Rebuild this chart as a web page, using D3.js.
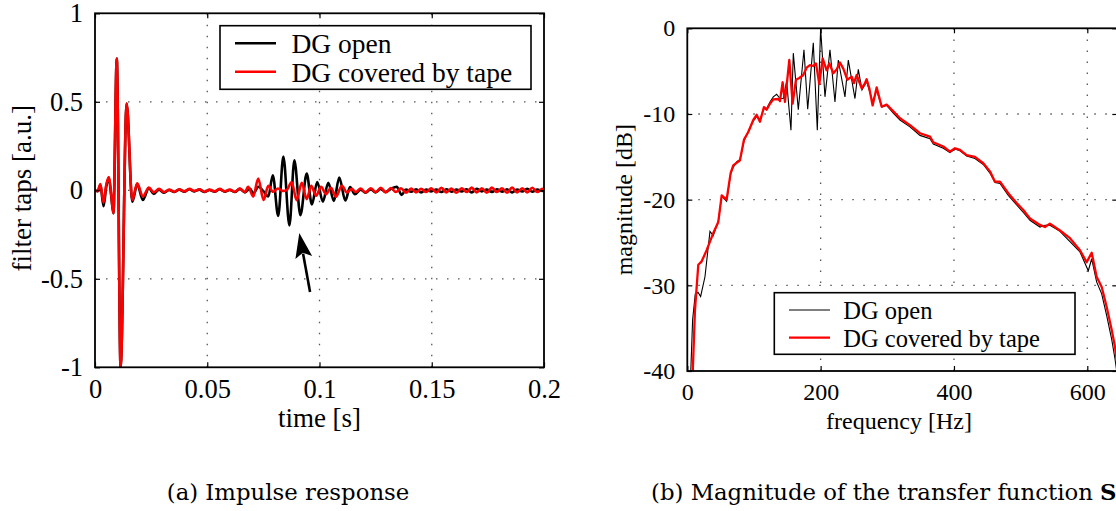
<!DOCTYPE html>
<html>
<head>
<meta charset="utf-8">
<script src="https://d3js.org/d3.v7.min.js"></script>
<style>
body { margin: 0; background: #fff; }
svg text { font-family: "Liberation Serif", "Times New Roman", serif; fill: #000; }
</style>
</head>
<body>
<svg width="1116" height="511"></svg>
<script>
// ---- data ----
// (a) impulse response: [time (s), filter tap]
var impulseOpen = [
  [0, 0], [0.0012, -0.005], [0.0024, 0.03], [0.0038, -0.09], [0.0050, 0.02], [0.0062, 0.07],
  [0.0072, -0.03], [0.0082, -0.13], [0.0097, 0.744], [0.0114, -1.0], [0.0141, 0.49],
  [0.0166, -0.065], [0.0188, 0.035], [0.0213, -0.055], [0.0240, 0.012], [0.0262, -0.02],
  [0.0285, 0.004], [0.0308, -0.014], [0.0330, 0.002], [0.0353, -0.010], [0.0375, 0.004],
  [0.0398, -0.008], [0.0420, 0.006], [0.0443, -0.006], [0.0465, 0.004], [0.0488, -0.010],
  [0.0510, 0.002], [0.0533, -0.008], [0.0555, 0.006], [0.0578, -0.008], [0.0600, 0.002],
  [0.0623, -0.010], [0.0645, 0.008], [0.0668, -0.012], [0.0690, 0.010], [0.0705, -0.018],
  [0.0728, 0.02], [0.0750, -0.005], [0.0772, -0.035], [0.0792, 0.085], [0.0816, -0.145],
  [0.0839, 0.19], [0.0866, -0.198], [0.0888, 0.17], [0.0915, -0.14], [0.0943, 0.094],
  [0.0966, -0.08], [0.0990, 0.047], [0.1015, -0.064], [0.1039, 0.043], [0.1064, -0.06],
  [0.1088, 0.072], [0.1115, -0.058], [0.1136, 0.018], [0.1158, -0.022], [0.1183, 0.004],
  [0.1205, -0.014], [0.1228, 0.006], [0.1250, -0.012], [0.1273, 0.008], [0.1295, -0.010],
  [0.1318, 0.008], [0.1344, 0.020], [0.1366, -0.026], [0.1385, 0.004], [0.1408, -0.008],
  [0.1430, 0.006], [0.1453, -0.012], [0.1475, 0.004], [0.1498, -0.006], [0.1520, 0.004],
  [0.1543, -0.010], [0.1565, 0.006], [0.1588, -0.008], [0.1610, 0.004], [0.1633, -0.006],
  [0.1655, 0.006], [0.1678, -0.012], [0.1700, 0.008], [0.1723, -0.006], [0.1745, 0.004],
  [0.1768, -0.010], [0.1790, 0.006], [0.1813, -0.008], [0.1835, 0.006], [0.1858, -0.012],
  [0.1880, 0.004], [0.1903, -0.006], [0.1925, 0.008], [0.1948, -0.008], [0.1970, 0.004],
  [0.1993, -0.004], [0.2, 0.0]
];
var impulseTape = [
  [0, 0], [0.0012, -0.005], [0.0024, 0.035], [0.0038, -0.07], [0.0050, 0.03], [0.0062, 0.075],
  [0.0072, -0.02], [0.0082, -0.13], [0.0097, 0.744], [0.0114, -1.0], [0.0141, 0.49],
  [0.0166, -0.055], [0.0188, 0.04], [0.0213, -0.035], [0.0240, 0.015], [0.0262, -0.012],
  [0.0285, 0.008], [0.0308, -0.010], [0.0330, 0.004], [0.0353, -0.008], [0.0375, 0.006],
  [0.0398, -0.006], [0.0420, 0.008], [0.0443, -0.004], [0.0465, 0.006], [0.0488, -0.008],
  [0.0510, 0.004], [0.0533, -0.006], [0.0555, 0.008], [0.0578, -0.006], [0.0600, 0.004],
  [0.0623, -0.008], [0.0645, 0.010], [0.0668, -0.010], [0.0682, 0.02], [0.0705, -0.035],
  [0.0727, 0.066], [0.0751, -0.055], [0.0772, 0.025], [0.0793, -0.008], [0.0815, 0.01],
  [0.0837, -0.004], [0.0856, 0.004], [0.0876, 0.047], [0.0898, -0.056], [0.0921, 0.042],
  [0.0943, -0.05], [0.0963, 0.025], [0.0985, -0.03], [0.1007, 0.02], [0.1029, -0.022],
  [0.1051, 0.014], [0.1073, -0.036], [0.1100, 0.026], [0.1122, -0.012], [0.1144, 0.008],
  [0.1161, -0.010], [0.1183, 0.010], [0.1205, -0.012], [0.1228, 0.012], [0.1250, -0.010],
  [0.1273, 0.014], [0.1295, -0.012], [0.1318, 0.013], [0.1340, -0.010], [0.1363, 0.012],
  [0.1385, -0.014], [0.1408, 0.010], [0.1430, -0.012], [0.1453, 0.008], [0.1475, -0.010],
  [0.1498, 0.012], [0.1520, -0.012], [0.1543, 0.014], [0.1565, -0.012], [0.1588, 0.010],
  [0.1610, -0.014], [0.1633, 0.012], [0.1655, -0.010], [0.1678, 0.015], [0.1700, -0.012],
  [0.1723, 0.012], [0.1745, -0.014], [0.1768, 0.015], [0.1790, -0.010], [0.1813, 0.012],
  [0.1835, -0.014], [0.1858, 0.015], [0.1880, -0.012], [0.1903, 0.012], [0.1925, -0.012],
  [0.1948, 0.014], [0.1970, -0.010], [0.1993, 0.008], [0.2, 0.004]
];

// (b) magnitude: [frequency (Hz), magnitude (dB)]
var magnitudeOpen = [
  [5, -40.5], [8, -34], [12, -31], [16, -30.8], [20, -31.3], [26.5, -29], [34, -23.7], [39, -24.2],
  [46.5, -22.5], [51.6, -19.6], [59, -20.2], [65, -17], [69, -16.2], [74, -15.6], [79, -15.3],
  [85, -13.2], [91.5, -12], [99, -10.8], [104, -10.3], [109, -10.7], [115, -9.3], [119, -9.4],
  [124, -8.6], [129, -8], [134, -7.7], [139, -8.2], [144, -8.2], [149, -6.2], [155.5, -11.9],
  [159, -2.9], [166.5, -9.5], [175, -2.5], [180.6, -9.45], [189, -1.7], [195, -11.9], [200, 0],
  [206.5, -8], [214, -2.5], [221.5, -8.6], [226.5, -3.7], [236.5, -8], [241.5, -3.7],
  [251.5, -8.2], [256.5, -4.8], [262, -7.2], [269, -6.2], [278, -8.6], [284, -7.2],
  [291.6, -9.2], [299, -9], [309, -9.9], [319, -10.7], [334, -11.5], [349, -12.5], [364, -12.9],
  [369, -13.5], [384, -14], [394, -14.5], [401.5, -14.1], [409, -14.3], [419, -14.9],
  [431.5, -15.2], [444, -15.9], [454, -16.9], [461.5, -18], [469, -18.1], [481.5, -19.5],
  [494, -20.6], [504, -21.5], [514, -22.4], [529, -23.2], [536.5, -23], [544, -23],
  [559, -23.7], [574, -24.9], [589, -26.1], [601.5, -28.3], [606.6, -26.9], [614, -29.6],
  [621.6, -31], [629, -33.5], [636.6, -36.3], [641.6, -38.6], [645, -40.5]
];
var magnitudeTape = [
  [8, -40.5], [11.5, -32.9], [16.5, -27.6], [21.6, -27.2], [29, -25.9], [39, -23.9],
  [46.5, -22.6], [51.6, -19.5], [59, -20], [65, -16.9], [69, -16], [74, -15.7], [79, -15.4],
  [85, -13], [91.5, -12.1], [99, -10.7], [104, -10.1], [109, -10.9], [115, -9.2], [119, -9.5],
  [124, -8.8], [129, -8.3], [136.5, -8.25], [139, -8.5], [143, -6.3], [146.5, -8.6],
  [153, -3.7], [158, -8.8], [163, -6], [168, -5.8], [174, -5.45], [179, -4.6], [184, -4.3],
  [189, -4.4], [193, -4.1], [198, -6.5], [203, -3.5], [209, -4.9], [213, -4.1], [219, -5.25],
  [224, -4.8], [229, -4], [234, -4.7], [240, -6], [246.6, -5.65], [250, -6.4], [254, -5.45],
  [261.6, -7], [266, -6.5], [269, -5.95], [273, -7], [278, -9], [284, -6.9], [291.6, -9.15],
  [299, -8.9], [309, -9.7], [319, -10.5], [334, -11.3], [349, -12.25], [364, -12.65],
  [369, -13.3], [384, -13.8], [394, -14.4], [401.5, -14], [409, -14.2], [419, -14.8],
  [431.5, -15], [444, -15.75], [454, -16.7], [461.5, -17.9], [469, -17.9], [481.5, -19.25],
  [494, -20.4], [504, -21.2], [514, -22.2], [529, -22.95], [536.5, -23.2], [544, -22.8],
  [559, -23.6], [574, -24.5], [589, -25.9], [599, -27.3], [606.6, -26.2], [614, -29],
  [621.6, -30.2], [629, -32.5], [636.6, -35.2], [641.6, -37.2], [647, -40.5]
];

// tick positions and their labels
var timeTicks = [0, 0.05, 0.1, 0.15, 0.2];
var timeLabels = ['0', '0.05', '0.1', '0.15', '0.2'];
var tapTicks = [-1, -0.5, 0, 0.5, 1];
var tapLabels = ['-1', '-0.5', '0', '0.5', '1'];
var freqTicks = [0, 200, 400, 600];
var freqLabels = ['0', '200', '400', '600'];
var magTicks = [-40, -30, -20, -10, 0];
var magLabels = ['-40', '-30', '-20', '-10', '0'];

var seriesNames = ['DG open', 'DG covered by tape'];
var seriesColors = ['#000000', '#ff0000'];

// arrow pointing at the echo, in data units [time, tap]
var arrowTip = [0.0910, -0.241];
var arrowTail = [0.0958, -0.575];

var captions = ['(a) Impulse response', '(b) Magnitude of the transfer function '];

// ---- layout ----
var svg = d3.select('svg');

var leftBox = {l: 95, r: 544, t: 13.3, b: 367.3};
var rightBox = {l: 687.3, r: 1117.3, t: 28.3, b: 371};

var xTime = d3.scaleLinear().domain([0, 0.2]).range([leftBox.l, leftBox.r]);
var yTaps = d3.scaleLinear().domain([-1, 1]).range([leftBox.b, leftBox.t]);
var xFreq = d3.scaleLinear().domain([0, 645]).range([rightBox.l, rightBox.r]);
var yMag = d3.scaleLinear().domain([-40, 0]).range([rightBox.b, rightBox.t]);

var defs = svg.append('defs');
defs.append('clipPath').attr('id', 'clipA').append('rect')
    .attr('x', leftBox.l).attr('y', leftBox.t)
    .attr('width', leftBox.r - leftBox.l).attr('height', leftBox.b - leftBox.t);
defs.append('clipPath').attr('id', 'clipB').append('rect')
    .attr('x', rightBox.l).attr('y', rightBox.t - 1)
    .attr('width', rightBox.r - rightBox.l).attr('height', rightBox.b - rightBox.t + 1);

function drawGrid(box, xs, ys, xt, yt) {
    var g = svg.append('g')
        .attr('stroke', '#555')
        .attr('stroke-width', 1.3)
        .attr('stroke-dasharray', '1.5,9.5');
    g.selectAll('.gx').data(xt.slice(1, -1)).enter().append('line')
        .attr('x1', d => xs(d)).attr('x2', d => xs(d))
        .attr('y1', box.b).attr('y2', box.t);
    g.selectAll('.gy').data(yt.slice(1, -1)).enter().append('line')
        .attr('x1', box.l).attr('x2', box.r)
        .attr('y1', d => ys(d)).attr('y2', d => ys(d));
}

function drawAxes(box, xs, ys, xt, xl, yt, yl, fontSize) {
    var bottom = svg.append('g')
        .attr('transform', 'translate(0,' + box.b + ')')
        .call(d3.axisBottom(xs).tickValues(xt).tickFormat((d, i) => xl[i]).tickSize(-5).tickPadding(12));
    var left = svg.append('g')
        .attr('transform', 'translate(' + box.l + ',0)')
        .call(d3.axisLeft(ys).tickValues(yt).tickFormat((d, i) => yl[i]).tickSize(-5).tickPadding(12));
    var top = svg.append('g')
        .attr('transform', 'translate(0,' + box.t + ')')
        .call(d3.axisTop(xs).tickValues(xt).tickFormat('').tickSize(-5));
    var right = svg.append('g')
        .attr('transform', 'translate(' + box.r + ',0)')
        .call(d3.axisRight(ys).tickValues(yt).tickFormat('').tickSize(-5));

    [bottom, left, top, right].forEach(function(a) {
        a.select('.domain').remove();
        a.selectAll('line').attr('stroke', '#000').attr('stroke-width', 1.2);
        a.selectAll('text')
            .attr('font-family', '"Liberation Serif", "Times New Roman", serif')
            .attr('font-size', fontSize);
    });

    svg.append('rect')
        .attr('x', box.l).attr('y', box.t)
        .attr('width', box.r - box.l).attr('height', box.b - box.t)
        .attr('fill', 'none')
        .attr('stroke', '#000')
        .attr('stroke-width', 1.8);
}

function drawLegend(x, y, w, h, lineX1, lineX2, rowY, textX, baseY, fontSize, widths) {
    var g = svg.append('g');
    g.append('rect')
        .attr('x', x).attr('y', y).attr('width', w).attr('height', h)
        .attr('fill', '#fff').attr('stroke', '#000').attr('stroke-width', 1.6);
    seriesNames.forEach(function(name, i) {
        g.append('line')
            .attr('x1', lineX1).attr('x2', lineX2)
            .attr('y1', rowY[i]).attr('y2', rowY[i])
            .attr('stroke', seriesColors[i])
            .attr('stroke-width', widths[i]);
        g.append('text')
            .attr('x', textX).attr('y', baseY[i])
            .attr('font-size', fontSize)
            .text(name);
    });
}

// ---- panel (a) ----
drawGrid(leftBox, xTime, yTaps, timeTicks, tapTicks);

var impulseLine = d3.line()
    .x(d => xTime(d[0]))
    .y(d => yTaps(d[1]))
    .curve(d3.curveMonotoneX);

var plotA = svg.append('g').attr('clip-path', 'url(#clipA)');
[impulseOpen, impulseTape].forEach(function(series, i) {
    plotA.append('path')
        .datum(series)
        .attr('d', impulseLine)
        .attr('fill', 'none')
        .attr('stroke', seriesColors[i])
        .attr('stroke-width', 2.6)
        .attr('stroke-linejoin', 'round');
});

drawAxes(leftBox, xTime, yTaps, timeTicks, timeLabels, tapTicks, tapLabels, 26.5);

// arrow marking the echo
var tip = [xTime(arrowTip[0]), yTaps(arrowTip[1])];
var tail = [xTime(arrowTail[0]), yTaps(arrowTail[1])];
var dx = tip[0] - tail[0], dy = tip[1] - tail[1];
var len = Math.sqrt(dx * dx + dy * dy);
var ux = dx / len, uy = dy / len;
var headLen = 25, headHalf = 8.5;
var base = [tip[0] - ux * headLen, tip[1] - uy * headLen];
svg.append('line')
    .attr('x1', tail[0]).attr('y1', tail[1])
    .attr('x2', base[0] + ux * 4).attr('y2', base[1] + uy * 4)
    .attr('stroke', '#000').attr('stroke-width', 2.6);
svg.append('path')
    .attr('d', 'M' + tip + 'L' + [base[0] - uy * headHalf, base[1] + ux * headHalf] +
               'L' + [base[0] + ux * 5, base[1] + uy * 5] +
               'L' + [base[0] + uy * headHalf, base[1] - ux * headHalf] + 'Z')
    .attr('fill', '#000');

drawLegend(220, 25.7, 311, 63.6, 235, 276, [43.3, 71.7], 291.5, [52.5, 81.5], 27.5, [2.6, 2.6]);

svg.append('text')
    .attr('x', (leftBox.l + leftBox.r) / 2).attr('y', 427)
    .attr('text-anchor', 'middle').attr('font-size', 27)
    .text('time [s]');
svg.append('text')
    .attr('transform', 'translate(31,' + ((leftBox.t + leftBox.b) / 2 - 2) + ') rotate(-90)')
    .attr('text-anchor', 'middle').attr('font-size', 27)
    .text('filter taps [a.u.]');

// ---- panel (b) ----
drawGrid(rightBox, xFreq, yMag, freqTicks.concat([645]), magTicks);

var magLine = d3.line()
    .x(d => xFreq(d[0]))
    .y(d => yMag(d[1]));

var plotB = svg.append('g').attr('clip-path', 'url(#clipB)');
plotB.append('path')
    .datum(magnitudeOpen)
    .attr('d', magLine)
    .attr('fill', 'none')
    .attr('stroke', seriesColors[0])
    .attr('stroke-width', 1.1);
plotB.append('path')
    .datum(magnitudeTape)
    .attr('d', magLine)
    .attr('fill', 'none')
    .attr('stroke', seriesColors[1])
    .attr('stroke-width', 2.3)
    .attr('stroke-linejoin', 'round');

drawAxes(rightBox, xFreq, yMag, freqTicks, freqLabels, magTicks, magLabels, 24);

drawLegend(774.3, 292.7, 300.7, 61.6, 789, 830, [310, 337.7], 843.3, [318.5, 347], 24.5, [1.1, 2.3]);

svg.append('text')
    .attr('x', 899).attr('y', 429)
    .attr('text-anchor', 'middle').attr('font-size', 24)
    .text('frequency [Hz]');
svg.append('text')
    .attr('transform', 'translate(632,' + ((rightBox.t + rightBox.b) / 2) + ') rotate(-90)')
    .attr('text-anchor', 'middle').attr('font-size', 24)
    .text('magnitude [dB]');

// ---- sub-figure captions ----
var capFont = '"DejaVu Serif", serif';
svg.append('text')
    .attr('x', 288).attr('y', 500)
    .attr('text-anchor', 'middle')
    .style('font-family', capFont)
    .attr('font-size', 22.8)
    .text(captions[0]);
var capB = svg.append('text')
    .attr('x', 651).attr('y', 500)
    .style('font-family', capFont)
    .attr('font-size', 22.8);
capB.append('tspan').text(captions[1]);
capB.append('tspan').attr('font-weight', 'bold').text('S');
</script>
</body>
</html>
